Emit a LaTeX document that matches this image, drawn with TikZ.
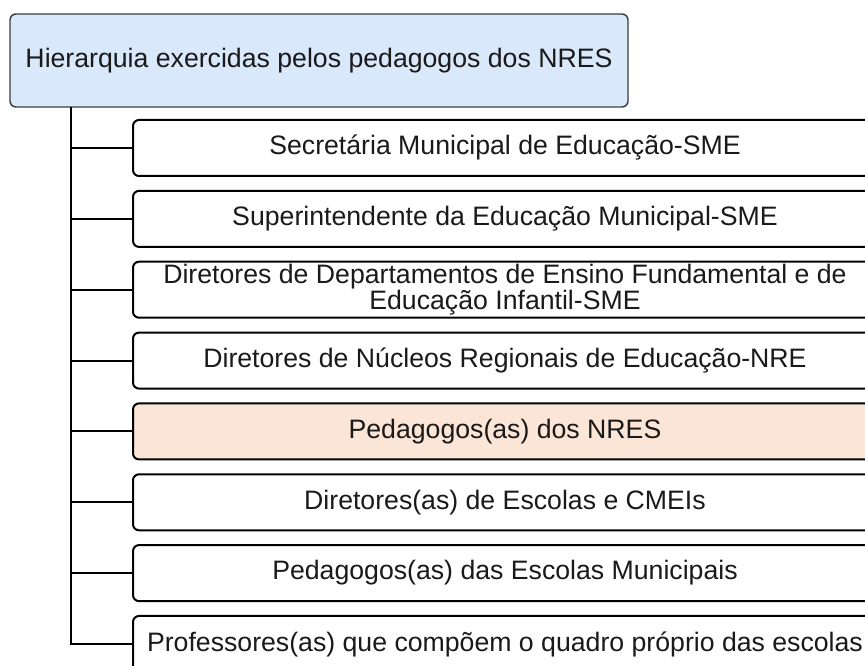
\documentclass[tikz,border=0pt]{standalone}
\usepackage{fontspec}
\setmainfont{Liberation Sans}
\definecolor{topfill}{HTML}{DAE8FC}
\definecolor{topline}{HTML}{3A3D42}
\definecolor{peach}{HTML}{FBE5D6}
\definecolor{txt}{HTML}{1A1A1A}
\begin{document}
\begin{tikzpicture}[x=0.75pt,y=-0.75pt,
  topbox/.style={draw=topline,line width=1.1pt,fill=topfill,rounded corners=4.5pt,
    minimum width=463.5pt,minimum height=69.75pt,inner sep=0pt,text=txt,
    font=\fontsize{20pt}{16.5pt}\selectfont},
  child/.style={draw=black,line width=1.5pt,fill=white,rounded corners=4.5pt,
    minimum width=558pt,minimum height=42pt,inner sep=0pt,text=txt,align=center,
    font=\fontsize{20pt}{16.5pt}\selectfont},
  link/.style={draw=black,line width=1.5pt}]
\useasboundingbox (0,0) rectangle (865,666);
\clip (0,0) rectangle (865,666);
\node[topbox] (top) at (319,60.5) {Hierarquia exercidas pelos pedagogos dos NRES};
\coordinate (trunk) at (71,107);
\node[child] (b1) at (505,148) {Secretária Municipal de Educação-SME};
\node[child] (b2) at (505,218.9) {Superintendente da Educação Municipal-SME};
\node[child] (b3) at (505,289.7) {Diretores de Departamentos de Ensino Fundamental e de\\Educação Infantil-SME};
\node[child] (b4) at (505,360.6) {Diretores de Núcleos Regionais de Educação-NRE};
\node[child,fill=peach] (b5) at (505,431.4) {Pedagogos(as) dos NRES};
\node[child] (b6) at (505,502.3) {Diretores(as) de Escolas e CMEIs};
\node[child] (b7) at (505,573.1) {Pedagogos(as) das Escolas Municipais};
\node[child] (b8) at (505,644) {Professores(as) que compõem o quadro próprio das escolas};
\foreach \b in {b1,b2,b3,b4,b5,b6,b7,b8}{
  \draw[link] (trunk) |- (\b.west);
}
\end{tikzpicture}
\end{document}
